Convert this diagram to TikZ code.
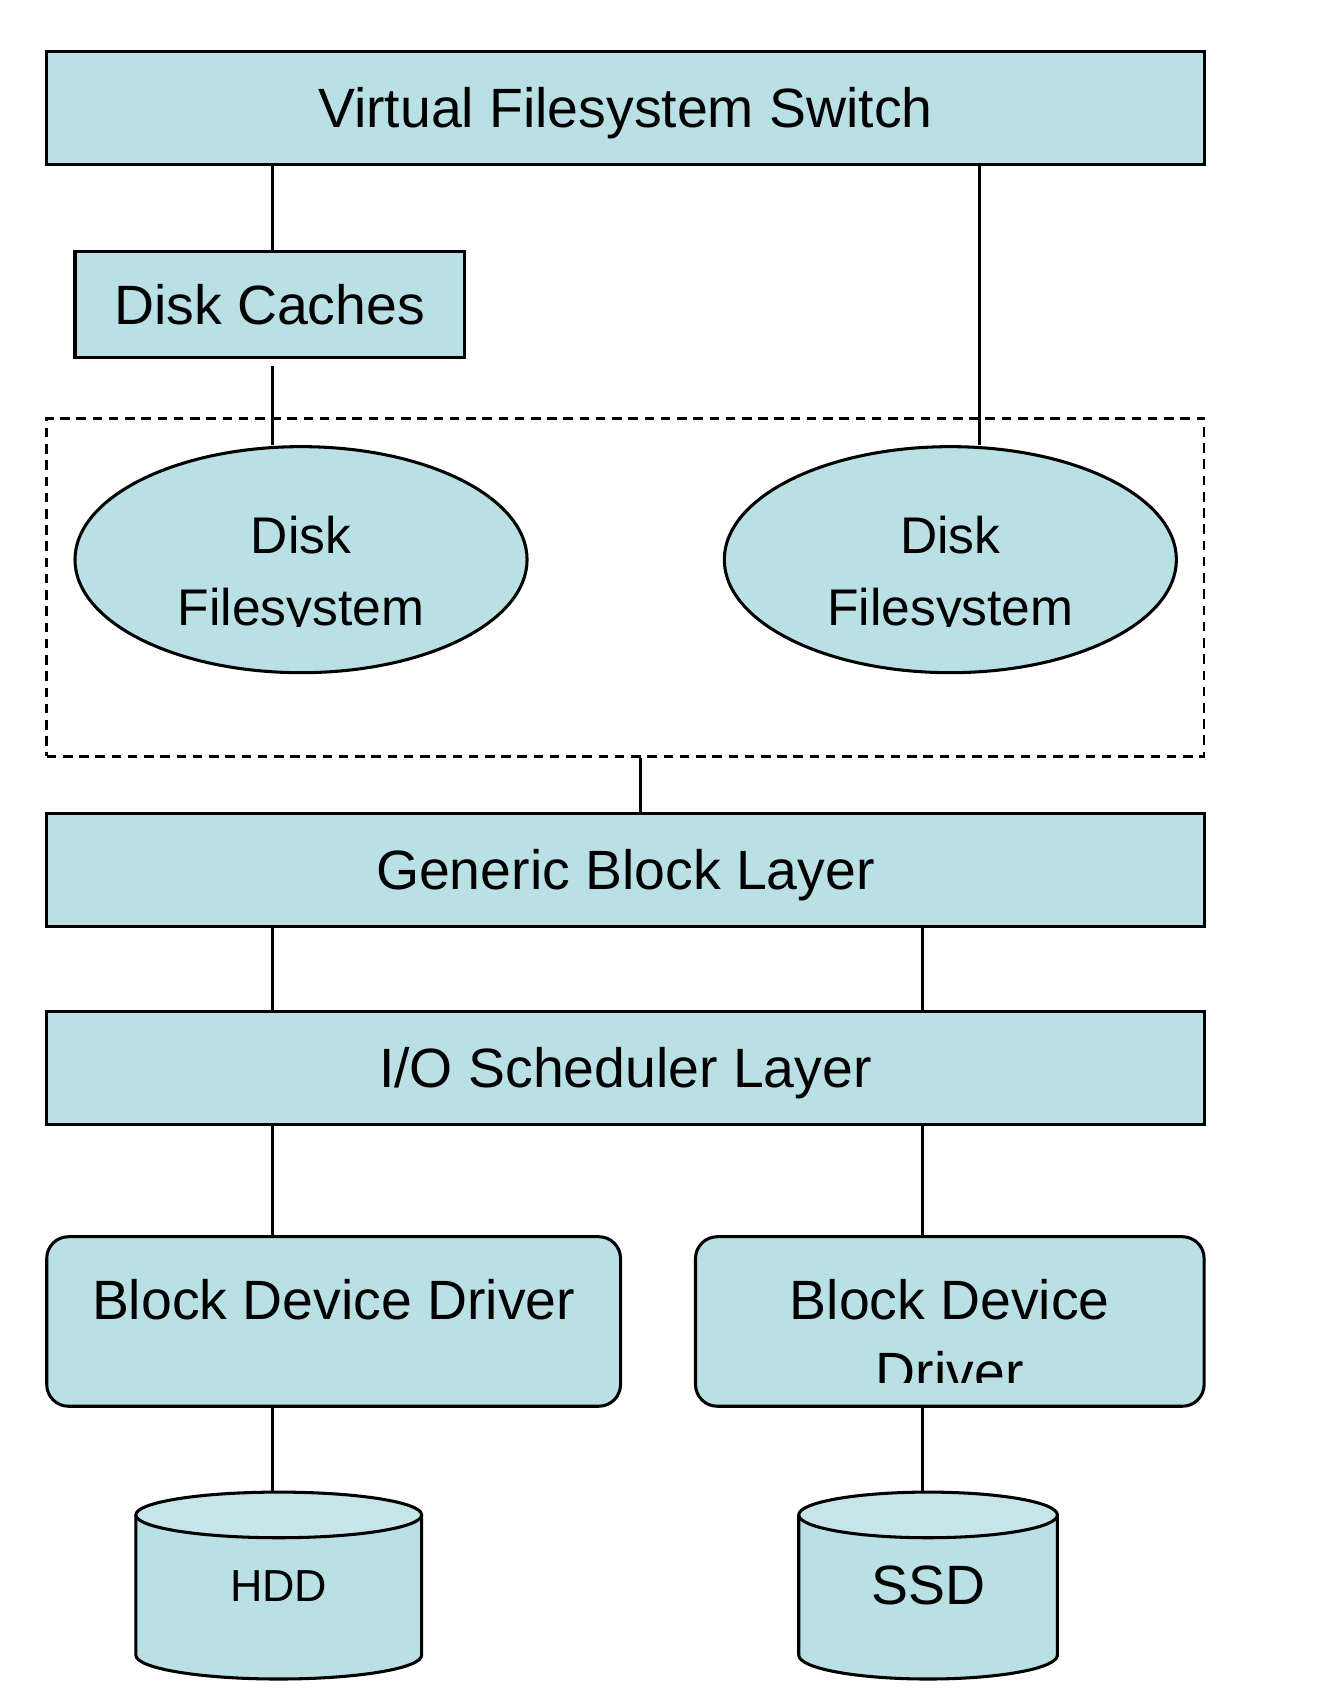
\documentclass[tikz,border=0pt]{standalone}
\usepackage{fontspec}
\setmainfont{Liberation Sans}
\usetikzlibrary{shapes.geometric,calc,backgrounds}
\definecolor{layerblue}{RGB}{185,224,228}
\definecolor{disktop}{RGB}{199,229,233}
\newcommand{\toptext}[2]{\raisebox{#1}[0pt][0pt]{\makebox[0pt]{\parbox[t]{9cm}{\centering #2}}}}

\begin{document}
\begin{tikzpicture}[
	bigfont/.style={font=\fontsize{29}{38}\selectfont},
	layer/.style={draw, line width=1.6pt, fill=layerblue, bigfont, minimum width=21.3cm, minimum height=2.08cm, text height=20.8pt, text depth=0pt},
	fsbox/.style={ellipse, draw, line width=1.6pt, fill=layerblue, font=\fontsize{27}{38}\selectfont, minimum width=8.32cm, minimum height=4.16cm, inner sep=0pt},
	driver/.style={draw, line width=1.6pt, fill=layerblue, bigfont, rounded corners=0.4cm, minimum height=3.12cm, inner sep=0pt},
	disk/.style={bigfont, minimum height=3.44cm, inner sep=0pt, outer sep=0pt},
	group/.style={draw, line width=1.3pt, dash pattern=on 5pt off 3.5pt, minimum width=21.3cm, minimum height=6.22cm},
	wire/.style={line width=1.5pt}
	]
	\useasboundingbox (0,0) rectangle (24.22,-31.36);
	
	% Upper layers
	\node[layer] (vfs) at (11.51,-1.98) {Virtual Filesystem Switch};
	\node[layer, minimum width=7.16cm, minimum height=1.96cm] (dc) at (4.96,-5.60) {Disk Caches};
	
	% Filesystems
	\node[group] (grp) at (11.51,-10.81) {};
	\node[fsbox] (fsl) at (5.54,-10.30) {\toptext{0.12cm}{Disk\\Filesystem}};
	\node[fsbox] (fsr) at (17.49,-10.30) {\toptext{0.12cm}{Disk\\Filesystem}};
	
	% Block layers
	\node[layer] (gbl) at (11.51,-16.01) {Generic Block Layer};
	\node[layer] (ios) at (11.51,-19.65) {I/O Scheduler Layer};
	
	% Drivers
	\node[driver, minimum width=10.56cm] (bddl) at (6.14,-24.32) {\toptext{0.04cm}{Block Device Driver}};
	\node[driver, minimum width=9.36cm] (bddr) at (17.48,-24.32) {\toptext{0.04cm}{Block Device\\Driver}};
	
	% text cut off at the box edge
	\foreach \n in {fsl,fsr}
		\fill[layerblue] ([xshift=-2.4cm,yshift=-1.24cm]\n.center) rectangle ([xshift=2.4cm,yshift=-1.56cm]\n.center);
	\fill[layerblue] ([xshift=-1.5cm,yshift=-1.14cm]bddr.center) rectangle ([xshift=1.5cm,yshift=-1.44cm]bddr.center);
	
	% Disks
	\node[disk, minimum width=5.26cm, font=\fontsize{23.5}{28}\selectfont] (hdd) at (5.13,-29.18) {HDD};
	\node[disk, minimum width=4.76cm] (ssd) at (17.08,-29.18) {SSD};
	\begin{scope}[on background layer]
		\foreach \d in {hdd,ssd} {
			\draw[line width=1.6pt, fill=layerblue] let \p1=($(\d.east)-(\d.west)$) in
				([yshift=-4.2mm]\d.north west) -- ([yshift=4.4mm]\d.south west)
				arc[start angle=180, end angle=360, x radius=0.5*\x1, y radius=4.4mm]
				-- ([yshift=-4.2mm]\d.north east);
			\draw[line width=1.6pt, fill=disktop] let \p1=($(\d.east)-(\d.west)$) in
				([yshift=-4.2mm]\d.north) ellipse [x radius=0.5*\x1, y radius=4.2mm];
		}
	\end{scope}
	
	% Connectors
	\coordinate (colA) at (5.02,0);
	\coordinate (colB) at (18.02,0);
	\coordinate (colC) at (16.98,0);
	\coordinate (colM) at (11.78,0);
	\draw[wire] (vfs.south -| colA) -- (dc.north -| colA);
	\draw[wire, shorten <=1.2mm] (dc.south -| colA) -- (fsl.north -| colA);
	\draw[wire] (vfs.south -| colB) -- (fsr.north -| colB);
	\draw[wire] (grp.south -| colM) -- (gbl.north -| colM);
	\foreach \a/\b/\c in {gbl/ios/colA, gbl/ios/colC, ios/bddl/colA, ios/bddr/colC, bddl/hdd/colA, bddr/ssd/colC}
		\draw[wire] (\a.south -| \c) -- (\b.north -| \c);
\end{tikzpicture}
\end{document}
